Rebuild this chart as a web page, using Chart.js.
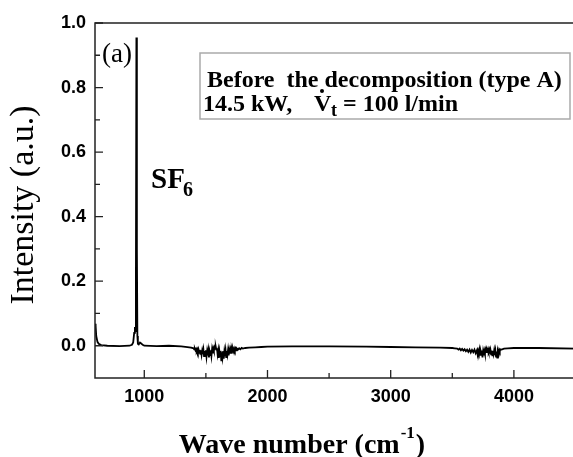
<!DOCTYPE html>
<html>
<head>
<meta charset="utf-8">
<script src="https://cdn.jsdelivr.net/npm/chart.js@4/dist/chart.umd.min.js"></script>
<style>
html,body{margin:0;padding:0;background:#fff;overflow:hidden;}
#wrap{width:573px;height:457px;overflow:hidden;position:relative;}
canvas{position:absolute;left:0;top:0;}
</style>
</head>
<body>
<div id="wrap"><canvas id="c" width="580" height="457"></canvas></div>
<script>
// ---- data ----
const wavenumber = [600,605,610,620,630,650,700,800,880,900,910,918,924,928,932,936,940,944,948,955,965,975,990,1000,1100,1200,1300,1350,1380,
1400,1405,1410,1415,1420,1425,1430,1435,1440,1445,1450,1455,1460,1465,1470,1475,1480,1485,1490,1495,
1500,1505,1510,1515,1520,1525,1530,1535,1540,1545,1550,1555,1560,1565,1570,1575,1580,1585,1590,1595,
1600,1605,1610,1615,1620,1625,1630,1635,1640,1645,1650,1655,1660,1665,1670,1675,1680,1685,1690,1695,
1700,1705,1710,1715,1720,1725,1730,1735,1740,1745,1750,1760,1770,1780,1790,1800,1820,1850,1900,1950,2000,
2200,2500,2800,3000,3200,3400,3500,3520,
3540,3550,3560,3570,3580,3590,3600,3610,3620,3630,3640,3650,3660,3670,3680,3690,
3700,3705,3710,3715,3720,3725,3730,3735,3740,3745,3750,3755,3760,3765,3770,3775,3780,3785,3790,3795,
3800,3805,3810,3815,3820,3825,3830,3835,3840,3845,3850,3855,3860,3865,3870,3875,3880,3885,3890,
3900,3920,3950,4000,4200,4500];
const intensity = [0.068,0.062,0.03,0.012,0.006,0.002,0.0,-0.001,0.0,0.003,0.01,0.04,0.058,0.045,0.2,0.955,0.3,0.03,0.006,0.004,0.01,0.007,0.002,0.0,-0.001,0.0,-0.002,-0.004,-0.006,
-0.008,-0.011,-0.009,-0.014,-0.010,-0.016,-0.011,-0.019,-0.012,-0.022,-0.013,-0.025,-0.014,-0.028,-0.015,-0.026,-0.013,-0.032,-0.016,-0.028,
-0.014,-0.034,-0.017,-0.030,-0.015,-0.036,-0.018,-0.029,-0.014,-0.031,-0.012,-0.024,-0.009,-0.016,-0.005,-0.010,-0.003,-0.012,-0.008,-0.026,
-0.014,-0.038,-0.018,-0.033,-0.016,-0.045,-0.020,-0.036,-0.017,-0.040,-0.018,-0.032,-0.015,-0.035,-0.016,-0.028,-0.013,-0.030,-0.014,-0.024,
-0.012,-0.022,-0.011,-0.019,-0.010,-0.017,-0.009,-0.015,-0.009,-0.014,-0.008,-0.012,-0.008,-0.011,-0.007,-0.009,-0.007,-0.006,-0.005,-0.004,-0.003,
-0.002,-0.002,-0.003,-0.004,-0.005,-0.006,-0.007,-0.008,
-0.009,-0.012,-0.009,-0.014,-0.010,-0.015,-0.011,-0.017,-0.012,-0.019,-0.012,-0.021,-0.013,-0.020,-0.012,-0.023,
-0.014,-0.026,-0.015,-0.022,-0.013,-0.028,-0.016,-0.024,-0.015,-0.036,-0.018,-0.030,-0.016,-0.025,-0.013,-0.020,-0.011,-0.016,-0.010,-0.018,
-0.012,-0.024,-0.014,-0.027,-0.015,-0.030,-0.016,-0.026,-0.014,-0.029,-0.016,-0.034,-0.018,-0.037,-0.017,-0.024,-0.013,-0.018,-0.011,
-0.012,-0.009,-0.008,-0.007,-0.007,-0.009];
const xTickValues = [1000,2000,3000,4000];
const xMinorTicks = [1500,2500,3500];
const yTickValues = [0,0.2,0.4,0.6,0.8,1.0];
const yMinorTicks = [0.1,0.3,0.5,0.7,0.9];

const points = wavenumber.map((x,i)=>({x:x,y:intensity[i]}));

const decor = {
  id:'decor',
  afterDatasetsDraw(chart){
    const ctx = chart.ctx, a = chart.chartArea;
    const xs = chart.scales.x, ys = chart.scales.y;
    ctx.save();
    ctx.strokeStyle = '#222';
    ctx.lineWidth = 1.5;
    ctx.strokeRect(a.left, a.top, a.right-a.left, a.bottom-a.top);
    ctx.lineWidth = 1.3;
    ctx.beginPath();
    xTickValues.forEach(v=>{const p=xs.getPixelForValue(v); ctx.moveTo(p,a.bottom); ctx.lineTo(p,a.bottom-8);});
    xMinorTicks.forEach(v=>{const p=xs.getPixelForValue(v); ctx.moveTo(p,a.bottom); ctx.lineTo(p,a.bottom-5);});
    yTickValues.forEach(v=>{const p=ys.getPixelForValue(v); ctx.moveTo(a.left,p); ctx.lineTo(a.left+8,p);});
    yMinorTicks.forEach(v=>{const p=ys.getPixelForValue(v); ctx.moveTo(a.left,p); ctx.lineTo(a.left+5,p);});
    ctx.stroke();

    // annotation box
    ctx.strokeStyle = '#aaa';
    ctx.lineWidth = 1.5;
    ctx.strokeRect(200, 53, 370, 66);
    ctx.fillStyle = '#000';
    ctx.textBaseline = 'alphabetic';
    ctx.textAlign = 'left';
    ctx.font = 'bold 24px "Liberation Serif"';
    ctx.fillText('Before  the decomposition (type A)', 207, 87);
    ctx.fillText('14.5 kW,', 203, 111);
    ctx.fillText('V', 314, 111);
    ctx.beginPath(); ctx.arc(322, 91, 2, 0, Math.PI*2); ctx.fill();
    ctx.font = 'bold 18px "Liberation Serif"';
    ctx.fillText('t', 331, 116);
    ctx.font = 'bold 24px "Liberation Serif"';
    ctx.fillText('= 100 l/min', 343, 111);

    // (a)
    ctx.font = '27px "Liberation Serif"';
    ctx.fillText('(a)', 102, 62);
    // SF6
    ctx.font = 'bold 29px "Liberation Serif"';
    ctx.fillText('SF', 151, 188);
    ctx.font = 'bold 20px "Liberation Serif"';
    ctx.fillText('6', 183, 196);

    // x title
    ctx.font = 'bold 28px "Liberation Serif"';
    const t1 = 'Wave number (cm', t2 = '-1', t3 = ')';
    const w1 = ctx.measureText(t1).width;
    ctx.font = 'bold 17px "Liberation Serif"';
    const w2 = ctx.measureText(t2).width;
    ctx.font = 'bold 28px "Liberation Serif"';
    const w3 = ctx.measureText(t3).width;
    let x0 = 301 - (w1+w2+w3)/2;
    ctx.fillText(t1, x0, 453);
    ctx.font = 'bold 17px "Liberation Serif"';
    ctx.fillText(t2, x0+w1+1, 438);
    ctx.font = 'bold 28px "Liberation Serif"';
    ctx.fillText(t3, x0+w1+w2+2, 453);

    // y title
    ctx.translate(24, 205);
    ctx.rotate(-Math.PI/2);
    ctx.textAlign = 'center';
    ctx.textBaseline = 'middle';
    ctx.font = '34px "Liberation Serif"';
    ctx.fillText('Intensity (a.u.)', 0, 0);
    ctx.restore();
  }
};

new Chart(document.getElementById('c'), {
  type:'line',
  data:{datasets:[{data:points, borderColor:'#000', borderWidth:1.8, pointRadius:0, tension:0, fill:false}]},
  options:{
    responsive:false, animation:false, devicePixelRatio:1,
    layout:{padding:{top:23, right:4.5, left:0, bottom:0}},
    plugins:{legend:{display:false}, tooltip:{enabled:false}},
    scales:{
      x:{type:'linear', min:600, max:4500,
         grid:{display:false, drawTicks:false}, border:{display:false},
         afterBuildTicks:s=>{s.ticks = xTickValues.map(v=>({value:v}));},
         afterFit:s=>{s.height = 79;},
         ticks:{color:'#000', padding:8, maxRotation:0, font:{family:'"Liberation Sans"', size:18, weight:'bold'}, callback:v=>String(v)}},
      y:{min:-0.1, max:1.0,
         grid:{display:false, drawTicks:false}, border:{display:false},
         afterBuildTicks:s=>{s.ticks = yTickValues.map(v=>({value:v}));},
         afterFit:s=>{s.width = 95;},
         ticks:{color:'#000', padding:9, font:{family:'"Liberation Sans"', size:18, weight:'bold'}, callback:v=>Number(v).toFixed(1)}}
    }
  },
  plugins:[decor]
});
</script>
</body>
</html>
